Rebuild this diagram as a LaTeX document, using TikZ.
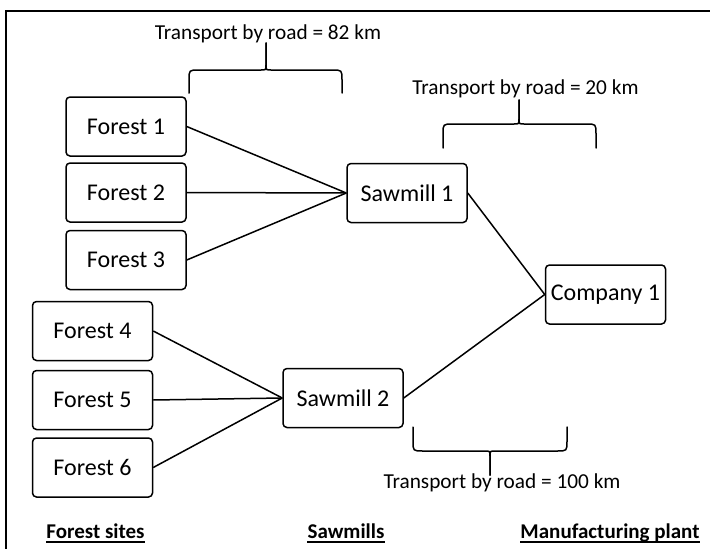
\documentclass[tikz,border=0pt]{standalone}
\usepackage{fontspec}
\setmainfont{Carlito}
\begin{document}
\begin{tikzpicture}[x=1pt,y=-1pt,
  site/.style={draw, line width=1.5pt, rounded corners=4pt, minimum width=120pt,
    minimum height=59pt, inner sep=0pt, font=\fontsize{24}{28}\selectfont},
  link/.style={line width=1.5pt},
  bracket/.style={line width=1.5pt, line cap=round},
  note/.style={font=\fontsize{21.3}{25}\selectfont, anchor=base, inner sep=0pt},
  heading/.style={font=\bfseries\fontsize{21}{25}\selectfont, anchor=base, inner sep=0pt},
  rule/.style={line width=1.5pt}]
\useasboundingbox (0,0) rectangle (710,549);
\fill[white] (0,0) rectangle (710,549);
% frame
\draw[line width=2pt] (6,549) -- (6,11) -- (710,11);

% forest sites
\node[site] (f1) at (126,126.5) {Forest 1};
\node[site] (f2) at (126,192.5) {Forest 2};
\node[site] (f3) at (126,260) {Forest 3};
\node[site] (f4) at (92.5,331) {Forest 4};
\node[site] (f5) at (92.5,400) {Forest 5};
\node[site] (f6) at (92.5,467.5) {Forest 6};

% sawmills and plant
\node[site] (s1) at (407,193) {Sawmill 1};
\node[site] (s2) at (343,398) {Sawmill 2};
\node[site] (c1) at (605.5,294.5) {Company 1};

% road links
\foreach \f in {f1,f2,f3} \draw[link] (\f.east) -- (s1.west);
\foreach \f in {f4,f5,f6} \draw[link] (\f.east) -- (s2.west);
\draw[link] (s1.east) -- (c1.west);
\draw[link] (s2.east) -- (c1.west);

% distance braces
\draw[bracket] (189,93) -- (189,80) .. controls (189,70) .. (199,70) -- (261,70)
  .. controls (266,70) .. (266,65) -- (266,43);
\draw[bracket] (266,43) -- (266,65) .. controls (266,70) .. (271,70) -- (332,70)
  .. controls (342,70) .. (342,80) -- (342,93);
\node[note] (t1) at (268,39) {Transport by road = 82 km};

\draw[bracket] (443,148) -- (443,134) .. controls (443,124) .. (453,124) -- (514,124)
  .. controls (519,124) .. (519,119) -- (519,100);
\draw[bracket] (519,100) -- (519,119) .. controls (519,124) .. (524,124) -- (586,124)
  .. controls (596,124) .. (596,134) -- (596,148);
\node[note] (t2) at (525.5,94) {Transport by road = 20 km};

\draw[bracket] (413,427) -- (413,441) .. controls (413,451) .. (423,451) -- (485,451)
  .. controls (490,451) .. (490,456) -- (490,475);
\draw[bracket] (490,475) -- (490,456) .. controls (490,451) .. (495,451) -- (557,451)
  .. controls (567,451) .. (567,441) -- (567,427);
\node[note] (t3) at (502,488) {Transport by road = 100 km};

% column headings
\node[heading] (h1) at (95.5,538) {Forest sites};
\node[heading] (h2) at (346,538) {Sawmills};
\node[heading] (h3) at (610,538) {Manufacturing plant};
\foreach \h in {h1,h2,h3}
  \draw[rule] ([yshift=-4pt]\h.base west) -- ([yshift=-4pt]\h.base east);
\end{tikzpicture}
\end{document}
